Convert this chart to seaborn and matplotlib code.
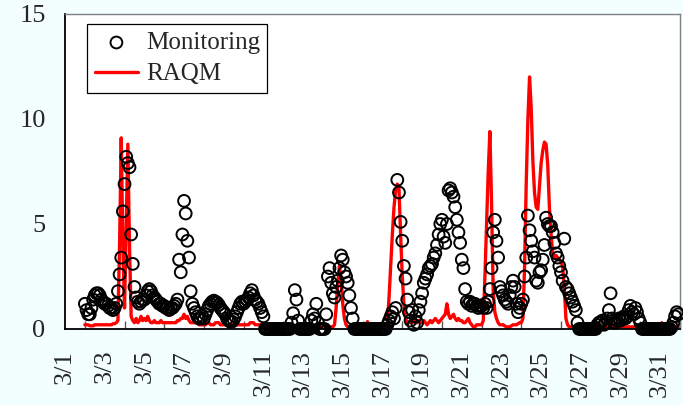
import numpy as np
import pandas as pd
import matplotlib
matplotlib.use("Agg")
import matplotlib.pyplot as plt
import seaborn as sns

# Hourly-averaged series resampled to 2-hour steps, starting 3/2 00:00
start_day = 2          # day of March of the first sample
step_hours = 2

# Observed concentration (one row per day, 00:00 ... 22:00)
monitoring = [
    1.2, 0.9, 0.7, 0.7, 1.0, 1.4, 1.6, 1.7, 1.7, 1.6, 1.4, 1.3,      # 3/2
    1.2, 1.2, 1.1, 1.0, 1.0, 0.9, 1.0, 1.2, 1.8, 2.6, 3.4, 5.6,      # 3/3
    6.9, 8.2, 7.9, 7.7, 4.5, 3.1, 2.0, 1.5, 1.3, 1.2, 1.3, 1.4,      # 3/4
    1.4, 1.6, 1.8, 1.9, 1.8, 1.6, 1.5, 1.4, 1.3, 1.2, 1.2, 1.1,      # 3/5
    1.1, 1.0, 1.0, 0.9, 1.0, 1.0, 1.1, 1.2, 1.4, 3.3, 2.7, 4.5,      # 3/6
    6.1, 5.5, 4.2, 3.4, 1.8, 1.2, 1.0, 0.8, 0.6, 0.5, 0.5, 0.6,      # 3/7
    0.5, 0.7, 0.9, 1.1, 1.2, 1.3, 1.35, 1.3, 1.25, 1.15, 1.0, 0.9,   # 3/8
    0.8, 0.7, 0.5, 0.4, 0.35, 0.35, 0.45, 0.6, 0.8, 1.0, 1.2, 1.3,   # 3/9
    1.2, 1.3, 1.4, 1.5, 1.7, 1.85, 1.6, 1.4, 1.3, 1.2, 1.0, 0.8,     # 3/10
    0.6, 0, 0, 0, 0, 0, 0, 0, 0, 0, 0, 0,                            # 3/11
    0, 0, 0, 0, 0, 0.3, 0.75, 1.85, 1.4, 0.4, 0, 0,                  # 3/12
    0, 0, 0, 0, 0, 0.4, 0.7, 0.5, 1.2, 0.3, 0, 0,                    # 3/13
    0, 0, 0.7, 2.5, 2.9, 2.2, 1.7, 1.5, 2.0, 2.3, 2.9, 3.5,          # 3/14
    3.3, 2.7, 2.5, 2.2, 1.6, 1.0, 0.5, 0, 0, 0, 0, 0,                # 3/15
    0, 0, 0, 0, 0, 0, 0, 0, 0, 0, 0, 0,                              # 3/16
    0, 0, 0, 0.2, 0.4, 0.6, 0.8, 0.5, 1.0, 7.1, 6.5, 5.1,            # 3/17
    4.2, 3.0, 2.4, 1.4, 0.8, 0.4, 0.9, 0.2, 0.6, 0.3, 0.9, 1.3,      # 3/18
    1.7, 2.2, 2.4, 2.6, 2.9, 3.0, 3.1, 3.4, 3.6, 4.0, 4.5, 5.0,      # 3/19
    5.2, 4.4, 4.1, 5.0, 6.6, 6.7, 6.5, 6.3, 5.8, 5.2, 4.6, 4.1,      # 3/20
    3.3, 2.9, 1.9, 1.3, 1.2, 1.3, 1.1, 1.2, 1.2, 1.1, 1.0, 1.1,      # 3/21
    1.1, 1.0, 1.2, 1.0, 1.3, 1.9, 2.9, 4.6, 5.2, 4.2, 3.4, 2.0,      # 3/22
    1.8, 1.6, 1.4, 1.3, 1.2, 1.6, 2.0, 2.3, 2.0, 1.2, 0.8, 1.0,      # 3/23
    1.2, 1.4, 2.5, 3.4, 5.4, 4.7, 4.2, 3.7, 3.4, 2.3, 2.2, 2.7,      # 3/24
    2.8, 3.3, 4.0, 5.3, 5.0, 4.9, 4.9, 4.6, 4.1, 3.6, 3.4, 3.0,      # 3/25
    2.7, 2.3, 4.3, 2.0, 1.9, 1.7, 1.5, 1.3, 1.1, 0.9, 0.3, 0,        # 3/26
    0, 0, 0, 0, 0, 0, 0, 0, 0, 0, 0.2, 0.3,                          # 3/27
    0.3, 0.4, 0.2, 0.3, 0.5, 0.9, 1.7, 0.5, 0.3, 0.3, 0.4, 0.5,      # 3/28
    0.4, 0.5, 0.6, 0.5, 0.6, 0.9, 1.1, 0.8, 0.7, 1.0, 0.8, 0.5,      # 3/29
    0.3, 0, 0, 0, 0, 0, 0, 0, 0, 0, 0, 0,                            # 3/30
    0, 0, 0, 0, 0, 0, 0, 0.1, 0.3, 0.6, 0.8, 0.7,                    # 3/31
]

# Model concentration (same time steps)
raqm = [
    0.2, 0.2, 0.2, 0.15, 0.15, 0.15, 0.2, 0.2, 0.2, 0.2, 0.2, 0.2,   # 3/2
    0.2, 0.2, 0.2, 0.2, 0.2, 0.25, 0.25, 0.3, 0.4, 4.0, 9.1, 4.0,    # 3/3
    1.0, 5.0, 8.8, 4.0, 0.6, 0.4, 0.3, 0.5, 0.3, 0.4, 0.6, 0.4,      # 3/4
    0.5, 0.4, 0.6, 0.4, 0.3, 0.3, 0.4, 0.3, 0.3, 0.3, 0.4, 0.3,      # 3/5
    0.3, 0.3, 0.3, 0.3, 0.3, 0.3, 0.3, 0.3, 0.4, 0.4, 0.5, 0.5,      # 3/6
    0.7, 0.5, 0.6, 0.4, 0.3, 0.3, 0.3, 0.3, 0.3, 0.2, 0.2, 0.2,      # 3/7
    0.2, 0.2, 0.3, 0.3, 0.2, 0.2, 0.2, 0.3, 0.3, 0.3, 0.2, 0.2,      # 3/8
    0.2, 0.2, 0.15, 0.15, 0.2, 0.2, 0.2, 0.2, 0.2, 0.2, 0.2, 0.2,    # 3/9
    0.2, 0.2, 0.2, 0.2, 0.3, 0.3, 0.3, 0.2, 0.2, 0.2, 0.2, 0.2,      # 3/10
    0.15, 0.1, 0.1, 0.1, 0.1, 0.1, 0.1, 0.1, 0.1, 0.1, 0.1, 0.1,     # 3/11
    0.1, 0.1, 0.1, 0.1, 0.1, 0.1, 0.1, 0.1, 0.1, 0.1, 0.1, 0.1,      # 3/12
    0.1, 0.1, 0.1, 0.1, 0.1, 0.1, 0.1, 0.1, 0.1, 0.1, 0.1, 0.1,      # 3/13
    0.1, 0.1, 0.1, 0.1, 0.1, 0.1, 0.1, 0.2, 1.0, 2.2, 3.0, 2.4,      # 3/14
    1.2, 0.5, 0.2, 0.1, 0.1, 0.1, 0.1, 0.1, 0.1, 0.1, 0.1, 0.1,      # 3/15
    0.1, 0.1, 0.2, 0.35, 0.1, 0.1, 0.1, 0.1, 0.1, 0.1, 0.1, 0.1,     # 3/16
    0.1, 0.1, 0.1, 0.3, 1.5, 3.0, 4.5, 5.8, 6.6, 6.9, 6.7, 4.5,      # 3/17
    2.5, 1.2, 0.5, 0.3, 0.3, 0.4, 0.3, 0.4, 0.3, 0.3, 0.4, 0.3,      # 3/18
    0.3, 0.4, 0.3, 0.2, 0.3, 0.4, 0.3, 0.4, 0.5, 0.4, 0.3, 0.4,      # 3/19
    0.5, 0.6, 0.7, 1.2, 0.7, 0.5, 0.6, 0.7, 0.5, 0.4, 0.5, 0.4,      # 3/20
    0.4, 0.3, 0.3, 0.4, 0.5, 0.3, 0.2, 0.1, 0.1, 0.2, 0.2, 0.2,      # 3/21
    0.2, 0.4, 2.5, 5.0, 7.5, 9.4, 6.0, 1.8, 0.8, 0.5, 0.3, 0.2,      # 3/22
    0.2, 0.2, 0.15, 0.1, 0.1, 0.1, 0.15, 0.2, 0.2, 0.2, 0.25, 0.3,   # 3/23
    0.3, 0.5, 3.0, 7.0, 10.0, 12.0, 10.5, 8.0, 6.5, 5.8, 5.7, 6.8,   # 3/24
    7.9, 8.5, 8.9, 8.8, 7.8, 5.8, 4.5, 3.6, 3.4, 3.5, 3.4, 3.3,      # 3/25
    3.2, 3.0, 2.0, 0.5, 0.2, 0.1, 0.1, 0.1, 0.1, 0.1, 0.1, 0.1,      # 3/26
    0.1, 0.1, 0.1, 0.1, 0.1, 0.1, 0.1, 0.1, 0.1, 0.2, 0.3, 0.2,      # 3/27
    0.1, 0.1, 0.1, 0.1, 0.1, 0.1, 0.1, 0.1, 0.1, 0.1, 0.1, 0.1,      # 3/28
    0.1, 0.1, 0.1, 0.1, 0.1, 0.1, 0.1, 0.1, 0.1, 0.1, 0.1, 0.1,      # 3/29
    0.1, 0.1, 0.1, 0.1, 0.1, 0.1, 0.1, 0.1, 0.1, 0.1, 0.1, 0.1,      # 3/30
    0.2, 0.3, 0.2, 0.1, 0.1, 0.1, 0.1, 0.1, 0.1, 0.1, 0.1, 0.1,      # 3/31
]

date_labels = ["3/1", "3/3", "3/5", "3/7", "3/9", "3/11", "3/13", "3/15",
               "3/17", "3/19", "3/21", "3/23", "3/25", "3/27", "3/29", "3/31"]
label_days = [1, 3, 5, 7, 9, 11, 13, 15, 17, 19, 21, 23, 25, 27, 29, 31]
y_ticks = [0, 5, 10, 15]

n = len(monitoring)
df = pd.DataFrame({
    "day": start_day + np.arange(n) * step_hours / 24.0,
    "Monitoring": monitoring,
    "RAQM": raqm,
})

sns.set_theme(style="white")
plt.rcParams["font.family"] = ["Liberation Serif", "DejaVu Serif"]

bg = "#F3FEFE"
fig = plt.figure(figsize=(6.83, 4.05), dpi=100, facecolor=bg)
ax = fig.add_axes([0.0952, 0.1877, 0.9004, 0.7778])
ax.set_facecolor("white")

sns.scatterplot(data=df, x="day", y="Monitoring", ax=ax, marker="o", s=72,
                facecolors="none", edgecolor="black", linewidth=1.4,
                label="Monitoring", clip_on=False, zorder=3)
sns.lineplot(data=df, x="day", y="RAQM", ax=ax, color="#FF0000",
             linewidth=2.4, label="RAQM", zorder=2)

ax.set_xlim(1, 32)
ax.set_ylim(0, 15)
ax.set_xticks(label_days)
ax.set_xticklabels(date_labels, rotation=90, fontsize=19)
ax.set_xticks(np.arange(1, 33), minor=True)
ax.set_yticks(y_ticks)
ax.set_yticklabels([str(v) for v in y_ticks], fontsize=19)
ax.set_xlabel("")
ax.set_ylabel("")

ax.tick_params(axis="x", which="both", direction="in", length=6, width=1,
               color="#555555", pad=15)
ax.tick_params(axis="y", which="major", direction="in", length=7, width=1,
               color="#333333", pad=14)
ax.tick_params(axis="x", which="minor", bottom=True)

for side in ("left", "bottom"):
    ax.spines[side].set_color("black")
    ax.spines[side].set_linewidth(1.3)
for side in ("top", "right"):
    ax.spines[side].set_color("#7f7f7f")
    ax.spines[side].set_linewidth(1.0)

leg = ax.legend(loc="upper left", bbox_to_anchor=(0.0358, 0.968),
                borderaxespad=0, fontsize=18, frameon=True, fancybox=False,
                handlelength=1.75, handletextpad=0.3, labelspacing=0.35,
                borderpad=0.3, scatterpoints=1)
leg.get_frame().set_edgecolor("black")
leg.get_frame().set_linewidth(0.9)
leg.get_frame().set_facecolor("white")
leg.get_frame().set_alpha(1)

fig.savefig("out.png", dpi=100, facecolor=bg)
